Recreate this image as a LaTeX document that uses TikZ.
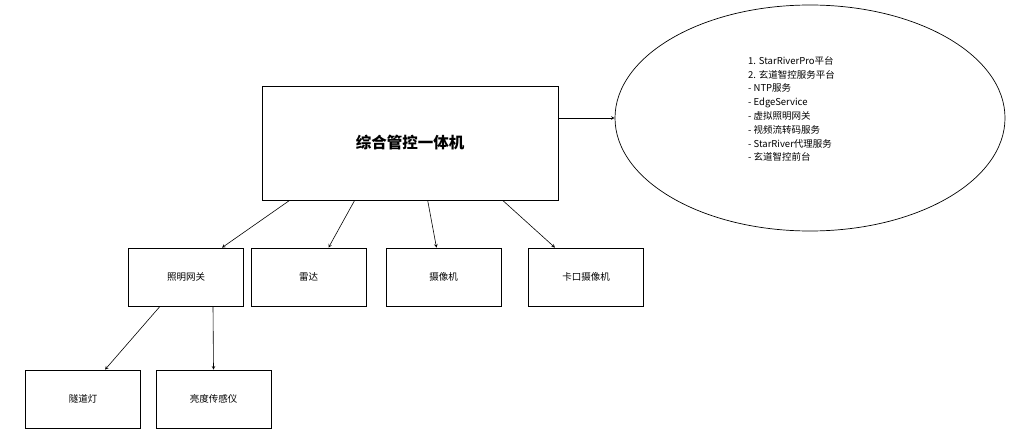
\documentclass[tikz,border=0pt]{standalone}
\usepackage{fontspec}
\setmainfont{Noto Sans CJK SC}
\usetikzlibrary{arrows,positioning,calc,shapes.geometric}
\tikzset{main node/.style={rectangle,draw,line width=0.7pt,minimum width=115pt,minimum height=58pt,font=\fontsize{9.5}{11}\selectfont}, }
\tikzset{linea/.style={-stealth,line width=0.6pt,draw}}
\begin{document}
\begin{tikzpicture}[x=1pt,y=-1pt]
  \useasboundingbox (0,0) rectangle (1011,441);
    \node[main node,minimum width=296pt,minimum height=114pt,font=\fontsize{15.5}{17}\selectfont\bfseries] (main) at (410,143) {综合管控一体机};
    \node[draw,ellipse,line width=0.7pt,minimum width=390pt,minimum height=226pt] (info) at (810,118) {};
    \node[align=left,anchor=north west,inner sep=0pt,font=\fontsize{9.5}{13.8}\selectfont] (infotext) at (748,56) {1. StarRiverPro平台\\2. 玄道智控服务平台\\- NTP服务\\- EdgeService\\- 虚拟照明网关\\- 视频流转码服务\\- StarRiver代理服务\\- 玄道智控前台};
%
    \node[main node] (gw) at (186,277) {照明网关};
    \node[main node] (radar) at (308.5,277) {雷达};
    \node[main node] (cam) at (443.5,277) {摄像机};
    \node[main node] (kcam) at (586,277) {卡口摄像机};
%
    \node[main node] (lamp) at (83,399) {隧道灯};
    \node[main node] (lux) at (213.5,399) {亮度传感仪};
%
  \path[linea] ($(main.east)+(0,-25)$) -- (info.west);
  \path[linea] ($(main.south west)+(28,0)$) -- ($(gw.north)+(36,0)$);
  \path[linea] ($(main.south west)+(93,0)$) -- ($(radar.north)+(20,0)$);
  \path[linea] ($(main.south west)+(166,0)$) -- ($(cam.north)+(-7,0)$);
  \path[linea] ($(main.south west)+(241,0)$) -- ($(kcam.north)+(-31,0)$);
  \path[linea] ($(gw.south)+(-26,0)$) -- ($(lamp.north)+(22,0)$);
  \path[linea] ($(gw.south)+(27,0)$) -- (lux.north);
\end{tikzpicture}
\end{document}
